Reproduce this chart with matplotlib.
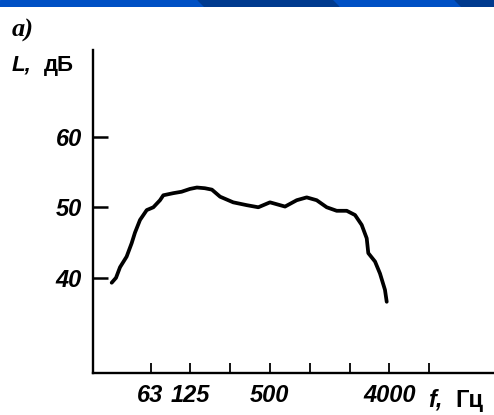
import numpy as np
import matplotlib.pyplot as plt
from matplotlib.patches import Polygon

# spectrum
freq = [32.1, 34.6, 37.1, 41.6, 45.4, 48.1, 52.5, 59.0, 66.2, 74.3, 78.7, 93.6,
        108, 125, 141, 162, 183, 211, 265, 335, 410, 502, 652, 799, 950, 1130,
        1345, 1600, 1905, 2200, 2470, 2695, 2770, 3115, 3395, 3700, 3815]
level = [39.3, 40.0, 41.5, 43.0, 44.9, 46.4, 48.2, 49.6, 50.0, 51.0, 51.7, 52.0,
         52.2, 52.6, 52.8, 52.7, 52.5, 51.5, 50.7, 50.3, 50.0, 50.7, 50.1, 51.0,
         51.4, 51.0, 50.0, 49.5, 49.5, 48.9, 47.5, 45.6, 43.5, 42.3, 40.6, 38.3, 36.6]
xticks = [63, 125, 250, 500, 1000, 2000, 4000, 8000]
xtick_labels = ["63", "125", "", "500", "", "", "4000", ""]
yticks = [40, 50, 60]

fig = plt.figure(figsize=(4.94, 4.15), dpi=100)

# blue band at the top of the slide
W, H = 494, 415
band = fig.add_axes([0, 1 - 7 / H, 1, 7 / H])
band.set_xlim(0, W)
band.set_ylim(7, 0)
band.axis("off")
band.add_patch(Polygon([[0, 0], [W, 0], [W, 7], [0, 7]], color="#0050c4"))
for a, b in [(198, 332), (455, 520)]:
    band.add_patch(Polygon([[a, 0], [b, 0], [b + 7, 7], [a + 7, 7]], color="#003a8e"))

ax = fig.add_axes([93 / W, 42 / H, (W - 93) / W, (373 - 50) / H])
ax.plot(freq, level, color="black", lw=2.7, solid_capstyle="round",
        solid_joinstyle="round")
ax.set_xscale("log", base=2)
ax.set_xlim(23.2, 24600)
ax.set_ylim(26.5, 72.3)

for s in ["top", "right"]:
    ax.spines[s].set_visible(False)
for s in ["left", "bottom"]:
    ax.spines[s].set_linewidth(1.7)

bold_it = dict(family="Liberation Sans", weight="bold", style="italic", size=17)
ax.set_yticks(yticks)
ax.set_yticklabels([str(v) for v in yticks], fontdict=bold_it)
ax.set_xticks(xticks)
ax.set_xticklabels(xtick_labels, fontdict=bold_it)
ax.minorticks_off()
ax.tick_params(axis="y", direction="in", length=11, width=1.8, pad=8)
ax.tick_params(axis="x", direction="in", length=7, width=1.3, pad=8)

fig.text(12 / W, 1 - 30 / H, "а)", family="Liberation Serif", weight="bold",
         style="italic", size=19, va="center")
fig.text(12 / W, 1 - 65 / H, "L,", family="Liberation Sans", weight="bold",
         style="italic", size=16, va="center")
fig.text(44 / W, 1 - 65 / H, "дБ", family="Liberation Sans", weight="bold",
         size=16, va="center")
fig.text(428 / W, 1 - 400 / H, "f,", family="Liberation Sans", weight="bold",
         style="italic", size=17, va="center")
fig.text(455 / W, 1 - 400 / H, "Гц", family="Liberation Sans", weight="bold",
         size=17, va="center")

fig.savefig("out.png", dpi=100)
